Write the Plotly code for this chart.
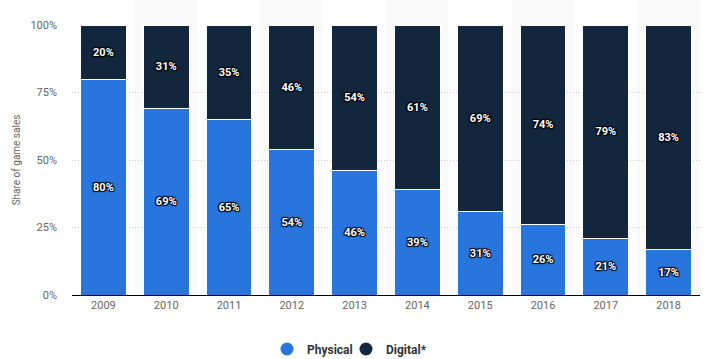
import plotly.graph_objects as go

years = ["2009", "2010", "2011", "2012", "2013", "2014", "2015", "2016", "2017", "2018"]
physical = [80, 69, 65, 54, 46, 39, 31, 26, 21, 17]
digital = [20, 31, 35, 46, 54, 61, 69, 74, 79, 83]
y_ticks = [0, 25, 50, 75, 100]

c_phys = "#2876dd"
c_dig = "#12263d"
shadow = "1px 1px 1px #000, -1px -1px 1px #000, 1px -1px 1px #000, -1px 1px 1px #000"

fig = go.Figure()
for name, vals, col in [("Physical", physical, c_phys), ("Digital*", digital, c_dig)]:
    fig.add_trace(go.Bar(
        x=years, y=vals, name=name, marker=dict(color=col, line=dict(color="white", width=1)),
        text=[f"{v}%" for v in vals], texttemplate="%{text}",
        textposition="inside", insidetextanchor="middle",
        textangle=0, constraintext="none",
        textfont=dict(color="white", size=11, family="Roboto", weight="bold", shadow=shadow),
        showlegend=False, hoverinfo="skip",
    ))
for name, col, lg in [("Physical", c_phys, "legend"), ("Digital*", c_dig, "legend2")]:
    fig.add_trace(go.Scatter(
        x=[None], y=[None], mode="markers", name=name, legend=lg,
        marker=dict(color=col, size=13, symbol="circle"), showlegend=True,
    ))

shapes = []
for i in range(1, len(years), 2):
    shapes.append(dict(type="rect", xref="x", yref="paper", x0=i - 0.5, x1=i + 0.5,
                       y0=0, y1=1.095, fillcolor="#fafafa", line=dict(width=0), layer="below"))

legend_font = dict(size=12, color="#333333", weight="bold")
fig.update_layout(
    width=705, height=359,
    margin=dict(l=72, r=5, t=25, b=64, autoexpand=False),
    barmode="stack", bargap=0.27,
    plot_bgcolor="rgba(0,0,0,0)", paper_bgcolor="white",
    font=dict(family="Roboto", color="#666666", size=11),
    shapes=shapes,
    legend=dict(orientation="h", x=0.3105, xanchor="left", y=-0.2, yanchor="middle",
                font=legend_font, bgcolor="rgba(0,0,0,0)"),
    legend2=dict(orientation="h", x=0.4363, xanchor="left", y=-0.2, yanchor="middle",
                 font=legend_font, bgcolor="rgba(0,0,0,0)"),
    xaxis=dict(showgrid=False, showline=True, linecolor="#000000", linewidth=1,
               tickfont=dict(size=11, color="#666666"), range=[-0.5, 9.5]),
    yaxis=dict(range=[0, 100], tickvals=y_ticks, ticktext=[f"{v}%" for v in y_ticks],
               showgrid=True, gridcolor="#cccccc", griddash="1px,2px", gridwidth=1, zeroline=False,
               ticklabelstandoff=14, tickfont=dict(size=11, color="#666666"),
               title=dict(text="Share of game sales", font=dict(size=10, color="#666666"), standoff=7)),
)

fig.write_html("out.html", post_script="document.body.style.margin='0';",
               config={"displayModeBar": False})
